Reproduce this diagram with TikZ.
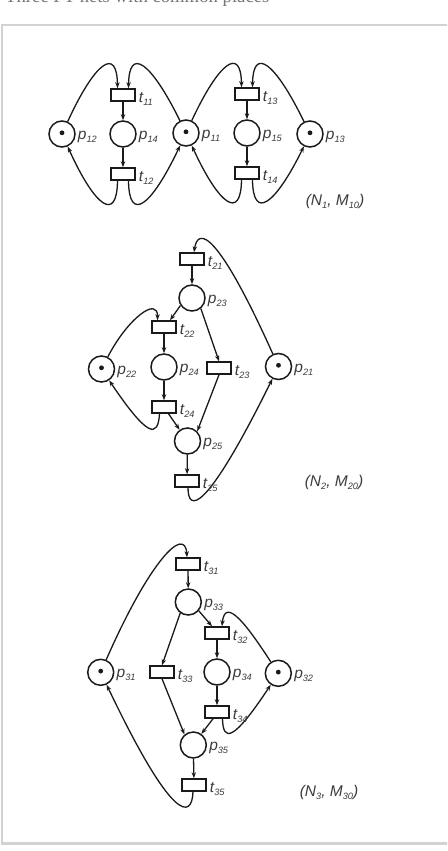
\documentclass[tikz,border=0pt]{standalone}
\usepackage{fontspec}
\setmainfont{Liberation Serif}
\newfontfamily\labfont{Liberation Sans}
\usetikzlibrary{arrows.meta}
\definecolor{ink}{HTML}{1A1A1A}
\definecolor{labgray}{HTML}{3C3C3C}
\definecolor{titlegray}{HTML}{777777}
\definecolor{framegray}{HTML}{D2D2D2}
\newcommand\sbs[1]{\raisebox{-3pt}{\fontsize{9.2}{10}\selectfont #1}}
\begin{document}
\begin{tikzpicture}[x=1pt,y=-1pt,
  place/.style={circle,draw=ink,line width=1.5pt,minimum size=26pt,inner sep=0pt},
  trans/.style={rectangle,draw=ink,line width=1.5pt,minimum width=24pt,minimum height=12pt,inner sep=0pt},
  flow/.style={draw=ink,line width=1.3pt,-{Stealth[length=6pt,width=4.4pt]}},
  lbl/.style={text=labgray,font=\labfont\itshape\fontsize{15.5}{17}\selectfont,inner sep=0pt},
  plbl/.style={lbl,anchor=base west,xshift=2pt,yshift=-5.5pt},
  tlbl/.style={lbl,anchor=base west,xshift=3pt,yshift=-7pt},
]
\useasboundingbox (0,0) rectangle (447,851);
\clip (0,0) rectangle (447,851);
\fill[white] (0,0) rectangle (447,851);
% title and frame
\node[anchor=base west,text=titlegray,font=\fontsize{18.7}{20}\selectfont,inner sep=0pt] (title) at (5,3) {Three PT-nets with common places};
\draw[framegray,line width=1.5pt] (1.8,25) rectangle (448.5,843);
\draw[framegray,line width=3pt] (1,843.5) -- (448,843.5);

% ---------------- Net 1 ----------------
\node[place] (p12) at (62,134) {};
\node[trans] (t11) at (123,95) {};
\node[place] (p14) at (123,134) {};
\node[trans] (t12) at (123,174) {};
\node[place] (p11) at (186,133) {};
\node[trans] (t13) at (247,94) {};
\node[place] (p15) at (247,133) {};
\node[trans] (t14) at (247,173) {};
\node[place] (p13) at (310,134) {};

\draw[flow] (p12) .. controls (95,62) and (117,46) .. ([xshift=-5.5pt]t11.north);
\draw[flow] (p11) .. controls (151,62) and (129,46) .. ([xshift=5.5pt]t11.north);
\draw[flow] (t11) -- (p14);
\draw[flow] (p14) -- (t12);
\draw[flow] ([xshift=-5.5pt]t12.south) .. controls (117,223) and (95,207) .. (p12);
\draw[flow] ([xshift=5.5pt]t12.south) .. controls (129,223) and (151,207) .. (p11);
\draw[flow] (p11) .. controls (219,62) and (241,46) .. ([xshift=-5.5pt]t13.north);
\draw[flow] (p13) .. controls (275,62) and (253,46) .. ([xshift=5.5pt]t13.north);
\draw[flow] (t13) -- (p15);
\draw[flow] (p15) -- (t14);
\draw[flow] ([xshift=-5.5pt]t14.south) .. controls (241,221) and (219,205) .. (p11);
\draw[flow] ([xshift=5.5pt]t14.south) .. controls (253,221) and (275,205) .. (p13);

\node[plbl] (lp12) at (p12.east) {p\sbs{12}};
\node[plbl] (lp14) at (p14.east) {p\sbs{14}};
\node[plbl] (lp11) at (p11.east) {p\sbs{11}};
\node[plbl] (lp15) at (p15.east) {p\sbs{15}};
\node[plbl] (lp13) at (p13.east) {p\sbs{13}};
\node[tlbl] (lt11) at (t11.east) {t\sbs{11}};
\node[tlbl] (lt12) at (t12.east) {t\sbs{12}};
\node[tlbl] (lt13) at (t13.east) {t\sbs{13}};
\node[tlbl] (lt14) at (t14.east) {t\sbs{14}};
\node[lbl] (c1) at (335,201) {(N\sbs{1}, M\sbs{10})};

% ---------------- Net 2 ----------------
\node[trans] (t21) at (192,259) {};
\node[place] (p23) at (192,298) {};
\node[trans] (t22) at (164,327) {};
\node[place] (p24) at (164,367) {};
\node[trans] (t23) at (219,368) {};
\node[place] (p22) at (101.5,369) {};
\node[place] (p21) at (278.5,366.5) {};
\node[trans] (t24) at (164,407) {};
\node[place] (p25) at (187.5,441) {};
\node[trans] (t25) at (187,481) {};

\draw[flow] (p21) .. controls (218,232) and (198,226) .. ([xshift=2pt]t21.north);
\draw[flow] (t21) -- (p23);
\draw[flow] (p23.213) -- ([xshift=6pt]t22.north);
\draw[flow] (p22) .. controls (128,318) and (158,296) .. ([xshift=-6.5pt]t22.north);
\draw[flow] (t22) -- (p24);
\draw[flow] (p23.310) -- (t23.north);
\draw[flow] (p24) -- (t24);
\draw[flow] ([xshift=-4.5pt]t24.south) .. controls (158,438) and (148,438) .. (p22);
\draw[flow] ([xshift=4.5pt]t24.south) -- (p25.125);
\draw[flow] (t23.south) -- (p25.45);
\draw[flow] (p25) -- (t25);
\draw[flow] ([xshift=1pt]t25.south) .. controls (188,512) and (205,515) .. (p21);

\node[plbl] (lp22) at (p22.east) {p\sbs{22}};
\node[plbl] (lp21) at (p21.east) {p\sbs{21}};
\node[plbl] (lp23) at (p23.east) {p\sbs{23}};
\node[plbl] (lp24) at (p24.east) {p\sbs{24}};
\node[plbl] (lp25) at (p25.east) {p\sbs{25}};
\node[tlbl] (lt21) at (t21.east) {t\sbs{21}};
\node[tlbl] (lt22) at (t22.east) {t\sbs{22}};
\node[tlbl] (lt23) at (t23.east) {t\sbs{23}};
\node[tlbl] (lt24) at (t24.east) {t\sbs{24}};
\node[tlbl] (lt25) at (t25.east) {t\sbs{25}};
\node[lbl] (c2) at (334,482) {(N\sbs{2}, M\sbs{20})};

% ---------------- Net 3 ----------------
\node[trans] (t31) at (188,564) {};
\node[place] (p33) at (188.3,602) {};
\node[trans] (t32) at (217,633) {};
\node[place] (p34) at (217,672) {};
\node[trans] (t33) at (162,672) {};
\node[place] (p31) at (100.7,672.3) {};
\node[place] (p32) at (278.3,673.3) {};
\node[trans] (t34) at (217,712) {};
\node[place] (p35) at (193.3,745) {};
\node[trans] (t35) at (194,785) {};

\draw[flow] (p31) .. controls (150,560) and (185,525) .. ([xshift=-1pt]t31.north);
\draw[flow] (t31) -- (p33);
\draw[flow] (p33.234) -- (t33.north);
\draw[flow] (p33.320) -- ([xshift=-5pt]t32.north);
\draw[flow] (p32) .. controls (250,630) and (225,594) .. ([xshift=5pt]t32.north);
\draw[flow] (t32) -- (p34);
\draw[flow] (p34) -- (t34);
\draw[flow] (t33.south) -- (p35.130);
\draw[flow] ([xshift=-4pt]t34.south) -- (p35.54);
\draw[flow] ([xshift=5.5pt]t34.south) .. controls (223,742) and (233,742) .. (p32);
\draw[flow] (p35) -- (t35);
\draw[flow] ([xshift=-1pt]t35.south) .. controls (192,820) and (172,822) .. (p31);

\node[plbl] (lp31) at (p31.east) {p\sbs{31}};
\node[plbl] (lp32) at (p32.east) {p\sbs{32}};
\node[plbl] (lp33) at (p33.east) {p\sbs{33}};
\node[plbl] (lp34) at (p34.east) {p\sbs{34}};
\node[plbl] (lp35) at (p35.east) {p\sbs{35}};
\node[tlbl] (lt31) at (t31.east) {t\sbs{31}};
\node[tlbl] (lt32) at (t32.east) {t\sbs{32}};
\node[tlbl] (lt33) at (t33.east) {t\sbs{33}};
\node[tlbl] (lt34) at (t34.east) {t\sbs{34}};
\node[tlbl] (lt35) at (t35.east) {t\sbs{35}};
\node[lbl] (c3) at (329,792) {(N\sbs{3}, M\sbs{30})};

% tokens
\foreach \p in {p12,p11,p13,p22,p21,p31,p32}
  \fill[ink] ([yshift=1.2pt]\p.center) circle[radius=2.4pt];
\end{tikzpicture}
\end{document}
